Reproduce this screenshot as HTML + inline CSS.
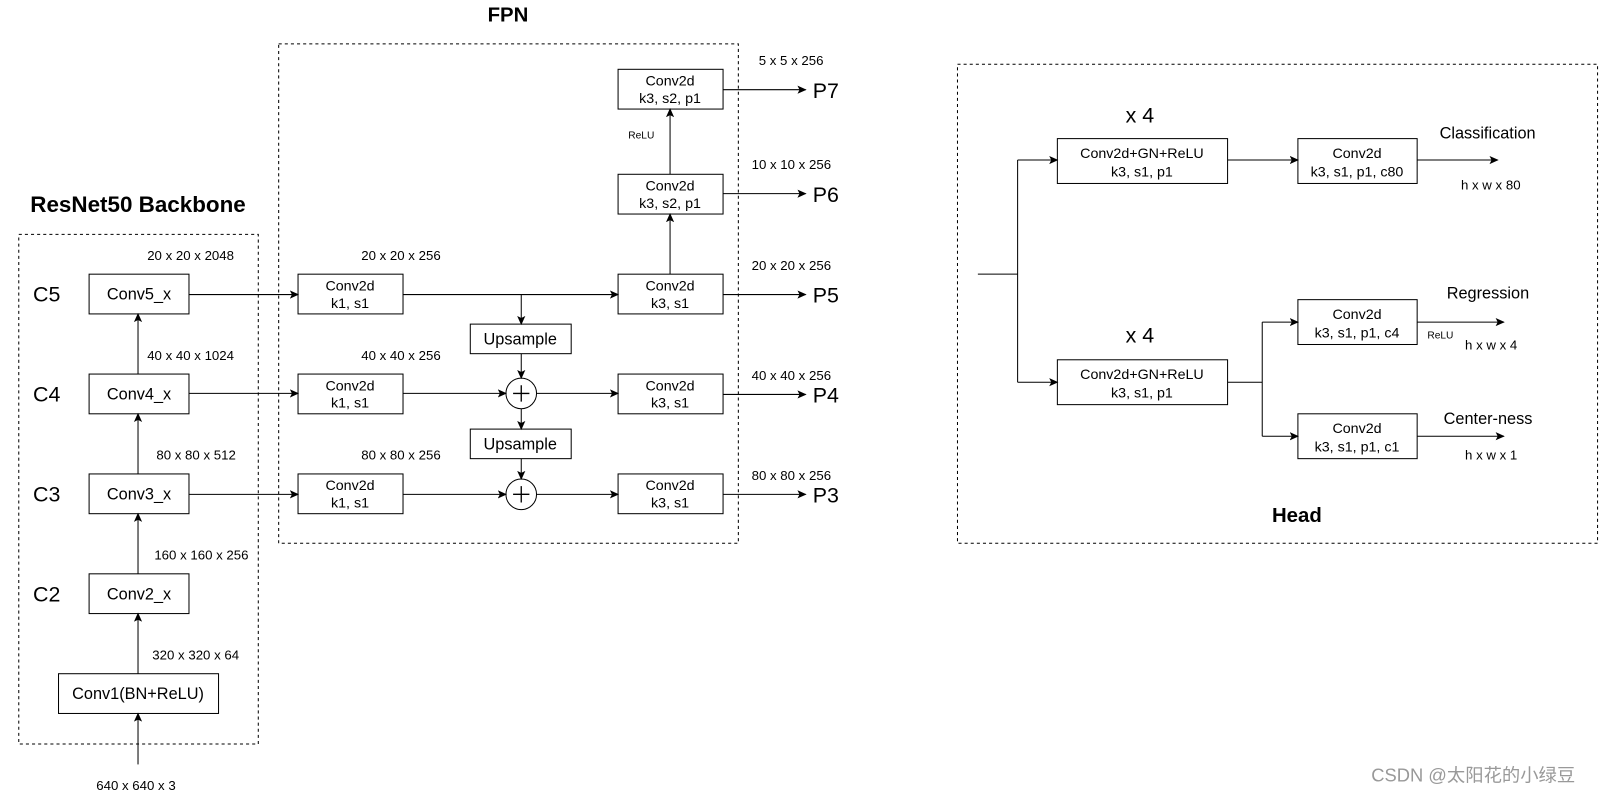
<!DOCTYPE html>
<html><head><meta charset="utf-8"><style>html,body{margin:0;padding:0;background:#fff}svg{display:block}text{font-family:"Liberation Sans","Noto Sans CJK SC",sans-serif;fill:#000}</style></head><body>
<svg width="1599" height="795" viewBox="0 0 1568 780" xmlns="http://www.w3.org/2000/svg">
<defs><marker id="a" markerWidth="10" markerHeight="10" refX="8" refY="4.5" orient="auto" markerUnits="userSpaceOnUse"><path d="M0,0.5 L9,4.5 L0,8.5 L2,4.5 Z" fill="#000"/></marker></defs>
<g fill="none" stroke="#000" stroke-width="1" stroke-dasharray="3,3">
<rect x="18" y="230" width="235" height="500"/>
<rect x="273" y="43" width="451" height="490"/>
<rect x="939" y="63" width="628" height="470"/>
</g>
<g font-weight="bold" text-anchor="middle">
<text x="135" y="208" font-size="22">ResNet50 Backbone</text>
<text x="498" y="21" font-size="20">FPN</text>
<text x="1272" y="512" font-size="20">Head</text>
</g>
<g fill="#fff" stroke="#000" stroke-width="1">
<rect x="87" y="269" width="98" height="39"/><rect x="87" y="367" width="98" height="39"/><rect x="87" y="465" width="98" height="39"/><rect x="87" y="563" width="98" height="39"/><rect x="57" y="661" width="157" height="39"/>
<rect x="292" y="269" width="103" height="39"/><rect x="292" y="367" width="103" height="39"/><rect x="292" y="465" width="103" height="39"/>
<rect x="606" y="269" width="103" height="39"/><rect x="606" y="367" width="103" height="39"/><rect x="606" y="465" width="103" height="39"/><rect x="606" y="171" width="103" height="39"/><rect x="606" y="68" width="103" height="39"/>
<rect x="461" y="318" width="99" height="29"/><rect x="461" y="421" width="99" height="29"/>
<rect x="1037" y="136" width="167" height="44"/><rect x="1037" y="353" width="167" height="44"/>
<rect x="1273" y="136" width="117" height="44"/><rect x="1273" y="294" width="117" height="44"/><rect x="1273" y="406" width="117" height="44"/>
<circle cx="511" cy="386" r="15"/><circle cx="511" cy="485" r="15"/>
</g>
<g stroke="#000" stroke-width="1.3"><path d="M503,386h16M511,378v16M503,485h16M511,477v16"/></g>
<g stroke="#000" stroke-width="1" fill="none" marker-end="url(#a)">
<path d="M135,750V700"/><path d="M135,661V602"/><path d="M135,563V504"/><path d="M135,465V406"/><path d="M135,367V308"/>
<path d="M185,289H292"/><path d="M185,386H292"/><path d="M185,485H292"/>
<path d="M395,289H606"/><path d="M511,289V318"/><path d="M511,347V371"/><path d="M395,386H496"/><path d="M526,386H606"/><path d="M511,401V421"/><path d="M511,450V470"/><path d="M395,485H496"/><path d="M526,485H606"/>
<path d="M657,269V210"/><path d="M657,171V107"/>
<path d="M709,88H790"/><path d="M709,190H790"/><path d="M709,289H790"/><path d="M709,387H790"/><path d="M709,485H790"/>
<path d="M998,157H1037"/><path d="M998,375H1037"/><path d="M1204,157H1273"/><path d="M1390,157H1469"/>
<path d="M1238,316H1273"/><path d="M1238,428H1273"/><path d="M1390,316H1475"/><path d="M1390,428H1475"/>
</g>
<g stroke="#000" stroke-width="1" fill="none"><path d="M959,269H998M998,157V375M1204,375H1238M1238,316V428"/></g>
<g font-size="16" text-anchor="middle">
<text x="136" y="294">Conv5_x</text><text x="136" y="392">Conv4_x</text><text x="136" y="490">Conv3_x</text><text x="136" y="588">Conv2_x</text><text x="135" y="686">Conv1(BN+ReLU)</text>
<text x="510" y="338">Upsample</text><text x="510" y="441">Upsample</text>
</g>
<g font-size="14" text-anchor="middle">
<text x="343" y="285">Conv2d</text><text x="343" y="302">k1, s1</text>
<text x="343" y="383">Conv2d</text><text x="343" y="400">k1, s1</text>
<text x="343" y="481">Conv2d</text><text x="343" y="498">k1, s1</text>
<text x="657" y="285">Conv2d</text><text x="657" y="302">k3, s1</text>
<text x="657" y="383">Conv2d</text><text x="657" y="400">k3, s1</text>
<text x="657" y="481">Conv2d</text><text x="657" y="498">k3, s1</text>
<text x="657" y="187">Conv2d</text><text x="657" y="204">k3, s2, p1</text>
<text x="657" y="84">Conv2d</text><text x="657" y="101">k3, s2, p1</text>
<text x="1120" y="155">Conv2d+GN+ReLU</text><text x="1120" y="173">k3, s1, p1</text>
<text x="1120" y="372">Conv2d+GN+ReLU</text><text x="1120" y="390">k3, s1, p1</text>
<text x="1331" y="155">Conv2d</text><text x="1331" y="173">k3, s1, p1, c80</text>
<text x="1331" y="313">Conv2d</text><text x="1331" y="331">k3, s1, p1, c4</text>
<text x="1331" y="425">Conv2d</text><text x="1331" y="443">k3, s1, p1, c1</text>
</g>
<g font-size="21"><text x="32" y="296">C5</text><text x="32" y="394">C4</text><text x="32" y="492">C3</text><text x="32" y="590">C2</text>
<text x="797" y="96">P7</text><text x="797" y="198">P6</text><text x="797" y="297">P5</text><text x="797" y="395">P4</text><text x="797" y="493">P3</text>
<text x="1104" y="120">x 4</text><text x="1104" y="336">x 4</text></g>
<g font-size="13">
<text x="144" y="255">20 x 20 x 2048</text><text x="144" y="353">40 x 40 x 1024</text><text x="153" y="451">80 x 80 x 512</text><text x="151" y="549">160 x 160 x 256</text><text x="149" y="647">320 x 320 x 64</text><text x="94" y="775">640 x 640 x 3</text>
<text x="354" y="255">20 x 20 x 256</text><text x="354" y="353">40 x 40 x 256</text><text x="354" y="451">80 x 80 x 256</text>
<text x="744" y="64">5 x 5 x 256</text><text x="737" y="166">10 x 10 x 256</text><text x="737" y="265">20 x 20 x 256</text><text x="737" y="373">40 x 40 x 256</text><text x="737" y="471">80 x 80 x 256</text>
<text x="1433" y="186">h x w x 80</text><text x="1437" y="343">h x w x 4</text><text x="1437" y="451">h x w x 1</text>
</g>
<g font-size="16"><text x="1412" y="136">Classification</text><text x="1419" y="293">Regression</text><text x="1416" y="416">Center-ness</text></g>
<g font-size="10"><text x="616" y="136">ReLU</text><text x="1400" y="332">ReLU</text></g>
<text x="1345" y="767" font-size="18" style="fill:#999">CSDN @太阳花的小绿豆</text>
</svg>
</body></html>
